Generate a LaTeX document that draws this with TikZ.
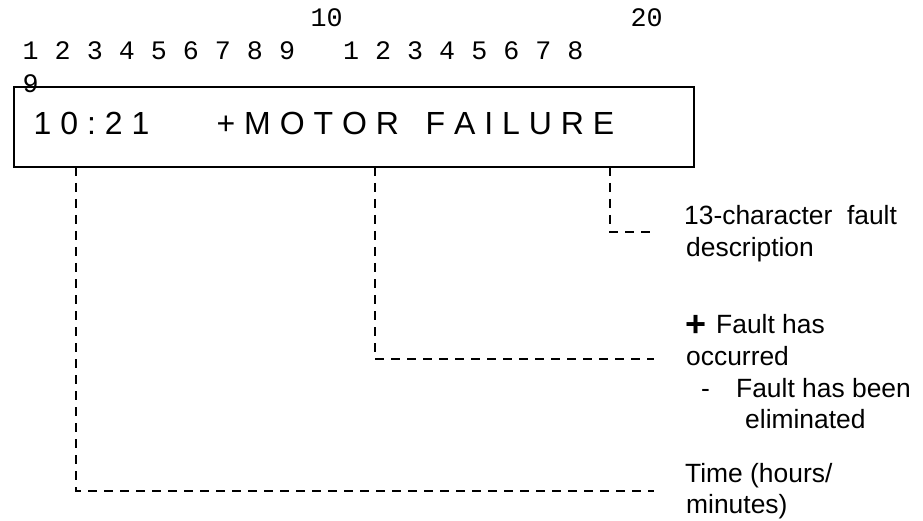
\documentclass[tikz,border=0pt]{standalone}
\usepackage{fontspec}
\setmainfont{Liberation Sans}
\newfontfamily\labfont{Liberation Sans}
\newfontfamily\rulerfont{Liberation Mono}
\newcommand\lsp{\kern8.9pt}
\begin{document}
\begin{tikzpicture}[x=1pt,y=-1pt,
  ruler/.style={font=\rulerfont\fontsize{26.7}{30}\selectfont, inner sep=0, anchor=base west},
  lab/.style={font=\labfont\fontsize{26.4}{32}\selectfont, inner sep=0, anchor=base west},
  dashline/.style={line width=1.5pt, dash pattern=on 9pt off 7pt},
]
\useasboundingbox (0,0) rectangle (923,521);
% display box
\node[draw, line width=1.8pt, minimum width=680pt, minimum height=80pt, inner sep=0, anchor=north west] (box) at (13,86) {};
% ruler
\node[ruler] (r10) at (310.5,27) {10};
\node[ruler] (r20) at (630.5,27) {20};
\node[ruler] (row2) at (22.5,60) {1 2 3 4 5 6 7 8 9~~~1 2 3 4 5 6 7 8};
\node[ruler] (row3) at (22.5,93) {9};
% message
\node[inner sep=0, anchor=base west, font=\labfont\fontsize{32}{32}\selectfont] (msg) at (33.5,135)
  {1\lsp0\lsp:\lsp2\lsp1\hspace{67.3pt}+\lsp M\lsp O\lsp T\lsp O\lsp R\lsp\ \lsp F\lsp A\lsp I\lsp L\lsp U\lsp R\lsp E};
% labels
\node[lab] (d1) at (684,225) {13-character\ \ fault};
\node[lab] (d2) at (686,257) {description};
\node[lab] (p1) at (685.5,333) {\raisebox{-3pt}{\bfseries\fontsize{36}{36}\selectfont +}\hspace{9.5pt}Fault has};
\node[lab] (p2) at (686,365) {occurred};
\node[lab] (m1) at (701,397) {-\hspace{26.2pt}Fault has been};
\node[lab] (m2) at (745,428) {eliminated};
\node[lab] (t1) at (685,482) {Time (hours/};
\node[lab] (t2) at (686,513) {minutes)};
% connectors
\coordinate (c1) at (610,167); \coordinate (e1) at (654,232);
\coordinate (c2) at (375,167); \coordinate (e2) at (654,359);
\coordinate (c3) at (76,167);  \coordinate (e3) at (654,491);
\draw[dashline] (c1) |- (e1);
\draw[dashline] (c2) |- (e2);
\draw[dashline] (c3) |- (e3);
\end{tikzpicture}
\end{document}
